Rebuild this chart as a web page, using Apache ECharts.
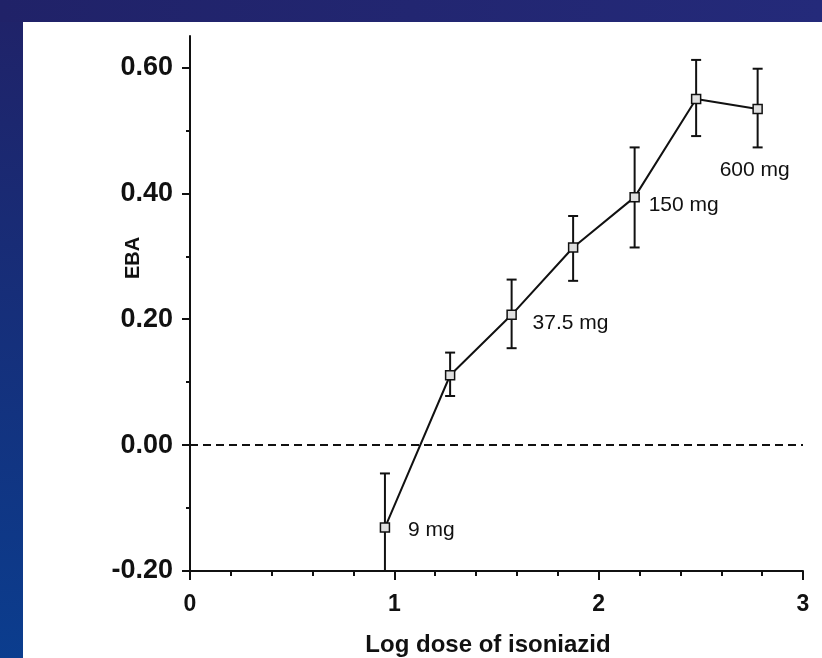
<!DOCTYPE html>
<html>
<head>
<meta charset="utf-8">
<style>
html,body{margin:0;padding:0;background:#fff;}
#chart{width:822px;height:658px;}
</style>
<script src="https://cdn.jsdelivr.net/npm/echarts@6/dist/echarts.min.js"></script>
</head>
<body>
<div id="chart"></div>
<script>
// ---- data ----
const logDose   = [0.954, 1.273, 1.574, 1.875, 2.176, 2.477, 2.778];
const ebaValues = [-0.131, 0.111, 0.207, 0.314, 0.394, 0.550, 0.534];
const errHigh   = [-0.045, 0.147, 0.263, 0.364, 0.473, 0.612, 0.598];
const errLow    = [-0.23, 0.078, 0.154, 0.261, 0.314, 0.491, 0.473];
const doseLabels = ['9 mg', '', '37.5 mg', '', '150 mg', '', '600 mg'];
const nilX = [0, 3];
const nilY = [0, 0];
const nilLabel = 'Nil';
const yMajorTicks = [-0.2, 0, 0.2, 0.4, 0.6];
const yMinorTicks = [-0.1, 0.1, 0.3, 0.5];
const xTitle = 'Log dose of isoniazid';
const yTitle = 'EBA';

const labelOffsets = [[23, 3], null, [21, 8], null, [14, 8], null, [-38, 61]];
const FONT = '"Liberation Sans", Arial, Helvetica, sans-serif';
const INK = '#111';

const chart = echarts.init(document.getElementById('chart'), null, {renderer: 'canvas'});

const lineData = logDose.map((x, i) => {
  const item = {value: [x, ebaValues[i]]};
  if (doseLabels[i]) {
    item.label = {
      show: true, formatter: doseLabels[i], position: 'inside',
      align: 'left', verticalAlign: 'middle',
      offset: labelOffsets[i], fontFamily: FONT, fontSize: 21, color: INK
    };
  }
  return item;
});

const errData = logDose.map((x, i) => [x, errLow[i], errHigh[i]]);
const nilData = nilX.map((x, i) => {
  const it = {value: [x, nilY[i]]};
  if (i === nilX.length - 1) {
    it.label = {show: true, formatter: nilLabel, position: 'inside', offset: [-27, -22],
      fontFamily: FONT, fontSize: 20, color: INK};
  }
  return it;
});

const option = {
  backgroundColor: '#ffffff',
  animation: false,
  grid: {left: 190, right: 19, top: 36, bottom: 87, containLabel: false},
  xAxis: {
    type: 'value', min: 0, max: 3, interval: 1,
    axisLine: {show: true, onZero: false, lineStyle: {color: INK, width: 2}},
    axisTick: {show: true, length: 9, lineStyle: {color: INK, width: 2}},
    minorTick: {show: true, splitNumber: 5, length: 5, lineStyle: {color: INK, width: 2}},
    splitLine: {show: false},
    axisLabel: {color: INK, fontFamily: FONT, fontWeight: 'bold', fontSize: 23, margin: 22}
  },
  yAxis: [{
    type: 'value', min: -0.2, max: 0.65,
    axisLine: {show: true, onZero: false, lineStyle: {color: INK, width: 2}},
    axisTick: {show: true, length: 8, customValues: yMajorTicks, lineStyle: {color: INK, width: 2}},
    splitLine: {show: false},
    axisLabel: {customValues: yMajorTicks, color: INK, fontFamily: FONT, fontWeight: 'bold',
      fontSize: 27, margin: 17, formatter: v => v.toFixed(2)}
  }, {
    type: 'value', min: -0.2, max: 0.65, position: 'left',
    axisLine: {show: false},
    axisTick: {show: true, length: 4, customValues: yMinorTicks, lineStyle: {color: INK, width: 2}},
    splitLine: {show: false},
    axisLabel: {show: false}
  }],
  graphic: [
    {type: 'rect', shape: {x: 0, y: 0, width: 23, height: 658}, silent: true,
      style: {fill: new echarts.graphic.LinearGradient(0, 0, 0, 1, [
        {offset: 0, color: '#202268'}, {offset: 1, color: '#0b3d8e'}])}},
    {type: 'rect', shape: {x: 0, y: 0, width: 822, height: 22}, silent: true,
      style: {fill: new echarts.graphic.LinearGradient(0, 0, 1, 0, [
        {offset: 0, color: '#202268'}, {offset: 1, color: '#242a7a'}])}},
    {type: 'text', x: 133, y: 258, rotation: Math.PI / 2, silent: true,
      style: {text: yTitle, fill: INK, font: 'bold 20px ' + FONT, align: 'center', verticalAlign: 'middle'}},
    {type: 'text', x: 488, y: 645, silent: true,
      style: {text: xTitle, fill: INK, font: 'bold 24px ' + FONT, align: 'center', verticalAlign: 'middle'}}
  ],
  series: [
    {
      type: 'line', data: nilData, symbol: 'none', showSymbol: true, symbolSize: 0,
      lineStyle: {color: INK, width: 2, type: [8, 5]}, silent: true, z: 1
    },
    {
      type: 'custom', data: errData, clip: true, z: 2,
      renderItem: function (params, api) {
        const x = api.value(0);
        const top = api.coord([x, api.value(2)]);
        const bot = api.coord([x, api.value(1)]);
        const h = 5;
        const st = {stroke: INK, lineWidth: 2};
        return {type: 'group', children: [
          {type: 'line', shape: {x1: top[0], y1: top[1], x2: bot[0], y2: bot[1]}, style: st},
          {type: 'line', shape: {x1: top[0] - h, y1: top[1], x2: top[0] + h, y2: top[1]}, style: st},
          {type: 'line', shape: {x1: bot[0] - h, y1: bot[1], x2: bot[0] + h, y2: bot[1]}, style: st}
        ]};
      }
    },
    {
      type: 'line', data: lineData, symbol: 'rect', symbolSize: 9, showSymbol: true, z: 3,
      lineStyle: {color: INK, width: 2},
      itemStyle: {color: '#e0e0e0', borderColor: INK, borderWidth: 1.5}
    }
  ]
};
chart.setOption(option);
</script>
</body>
</html>
